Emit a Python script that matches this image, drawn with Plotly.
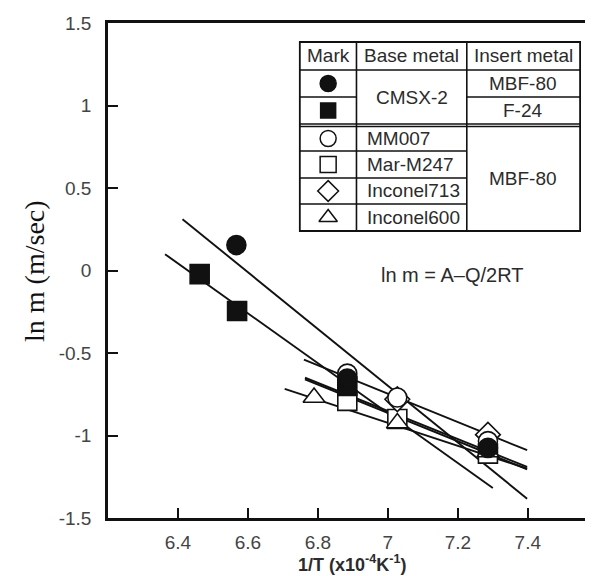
import plotly.graph_objects as go

# ---------------- data ----------------
# CMSX-2 / MBF-80  (filled circle)
cmsx_mbf_x = [6.567, 6.884, 7.286]
cmsx_mbf_y = [0.154, -0.655, -1.075]
# CMSX-2 / F-24  (filled square)
cmsx_f24_x = [6.462, 6.569, 6.884]
cmsx_f24_y = [-0.022, -0.245, -0.700]
# MM007 / MBF-80 (open circle)
mm007_x = [6.884, 7.027, 7.286]
mm007_y = [-0.625, -0.770, -1.034]
# Mar-M247 / MBF-80 (open square)
marm_x = [6.884, 7.027, 7.286]
marm_y = [-0.790, -0.900, -1.110]
# Inconel713 / MBF-80 (diamond)
in713_x = [7.027, 7.286]
in713_y = [-0.780, -0.995]
# Inconel600 / MBF-80 (triangle)
in600_x = [6.789, 7.027, 7.286]
in600_y = [-0.770, -0.925, -1.100]

# fitted lines (start / end points)
fit_x0 = [6.413, 6.363, 6.760, 6.763, 6.763, 6.705]
fit_y0 = [0.311, 0.099, -0.540, -0.650, -0.660, -0.718]
fit_x1 = [7.398, 7.300, 7.398, 7.398, 7.398, 7.398]
fit_y1 = [-1.383, -1.318, -1.089, -1.190, -1.205, -1.200]

x_ticks = [6.4, 6.6, 6.8, 7.0, 7.2, 7.4]
x_tick_text = ["6.4", "6.6", "6.8", "7", "7.2", "7.4"]
y_ticks = [-1.5, -1, -0.5, 0, 0.5, 1, 1.5]
y_tick_text = ["-1.5", "-1", "-0.5", "0", "0.5", "1", "1.5"]

table_header = ["Mark", "Base metal", "Insert metal"]
table_base = ["CMSX-2", "MM007", "Mar-M247", "Inconel713", "Inconel600"]
table_insert = ["MBF-80", "F-24", "MBF-80"]
equation = "ln m = A\u2013Q/2RT"

# ---------------- layout constants ----------------
W, H = 593, 576
ML, MR, MT, MB = 100, 2, 15, 66
PW, PH = W - ML - MR, H - MT - MB
FONT = "Liberation Sans, Arial, Helvetica, sans-serif"
TXT = "#2b2b2b"
INK = "#111111"


def px(x):
    return (x - ML) / PW


def py(y):
    return (MT + PH - y) / PH


fig = go.Figure()

# fitted lines
for i in range(len(fit_x0)):
    fig.add_trace(go.Scatter(x=[fit_x0[i], fit_x1[i]], y=[fit_y0[i], fit_y1[i]],
                             mode="lines", line=dict(color=INK, width=1.9),
                             showlegend=False, hoverinfo="skip"))

MS = 19
LW = 1.6
series = [
    (marm_x, marm_y, "square", "white"),
    (in600_x, in600_y, "triangle-up", "white"),
    (in713_x, in713_y, "diamond", "white"),
    (mm007_x, mm007_y, "circle", "white"),
    (cmsx_f24_x, cmsx_f24_y, "square", INK),
    (cmsx_mbf_x, cmsx_mbf_y, "circle", INK),
]
for xs, ys, sym, fill in series:
    fig.add_trace(go.Scatter(x=xs, y=ys, mode="markers",
                             marker=dict(symbol=sym, size=MS, color=fill,
                                         line=dict(color=INK, width=LW)),
                             showlegend=False, cliponaxis=False))

# ---------------- table (legend) ----------------
TX0, TX1, TX2, TX3 = 293, 350, 461, 575
shapes = []


def hline(x0, x1, y, w=1.6):
    shapes.append(dict(type="line", xref="paper", yref="paper",
                       x0=px(x0), x1=px(x1), y0=py(y), y1=py(y),
                       line=dict(color=INK, width=w), layer="above"))


def vline(x, y0, y1, w=1.6):
    shapes.append(dict(type="line", xref="paper", yref="paper",
                       x0=px(x), x1=px(x), y0=py(y0), y1=py(y1),
                       line=dict(color=INK, width=w), layer="above"))


shapes.append(dict(type="rect", xref="paper", yref="paper",
                   x0=px(TX0), x1=px(TX3), y0=py(34), y1=py(223),
                   fillcolor="white", line=dict(color=INK, width=1.8), layer="below"))
vline(TX1, 34, 223)
vline(TX2, 34, 223)
hline(TX0, TX3, 62)
hline(TX0, TX1, 89)
hline(TX2, TX3, 89)
hline(TX0, TX3, 116, 1.4)
hline(TX0, TX3, 118.5, 1.4)
hline(TX0, TX2, 143)
hline(TX0, TX2, 170)
hline(TX0, TX2, 196)

annotations = []


def text(x, y, t, size=19, xanchor="center", color=TXT, family=FONT, **kw):
    annotations.append(dict(x=px(x), y=py(y), xref="paper", yref="paper", text=t,
                            showarrow=False, xanchor=xanchor, yanchor="middle",
                            font=dict(family=family, size=size, color=color), **kw))


text((TX0 + TX1) / 2, 48, table_header[0])
text((TX1 + TX2) / 2, 48, table_header[1])
text((TX2 + TX3) / 2, 48, table_header[2])
text((TX1 + TX2) / 2, 89.5, table_base[0])
row_c = [130.5, 156.5, 183, 209.5]
for name, yc in zip(table_base[1:], row_c):
    text(359, yc, name, xanchor="left")
text((TX2 + TX3) / 2, 75.5, table_insert[0])
text((TX2 + TX3) / 2, 102.5, table_insert[1])
text((TX2 + TX3) / 2, 170, table_insert[2])

# table marker symbols (placed in data coords derived from pixels)
XR = [6.2, 6.2 + PW / 352.0]
YR = [-1.5, 1.5]


def dx(p):
    return XR[0] + (p - ML) / PW * (XR[1] - XR[0])


def dy(p):
    return YR[1] - (p - MT) / PH * (YR[1] - YR[0])


mark_cx = (TX0 + TX1) / 2
mark_rows = [75.5, 102.5, 130.5, 156.5, 183, 209.5]
mark_syms = ["circle", "square", "circle", "square", "diamond", "triangle-up"]
mark_fill = [INK, INK, "white", "white", "white", "white"]
mark_size = [16, 15, 16, 16, 16, 16]
fig.add_trace(go.Scatter(x=[dx(mark_cx)] * 6, y=[dy(v) for v in mark_rows],
                         mode="markers",
                         marker=dict(symbol=mark_syms, size=mark_size, color=mark_fill,
                                     opacity=1,
                                     line=dict(color=INK, width=1.5)),
                         showlegend=False, cliponaxis=False, hoverinfo="skip"))

# equation
text(446, 267, equation, size=20)

# axis titles
text(345, 555, "<b>1/T (x10<sup>-4</sup>K<sup>-1</sup>)</b>", size=18, color=TXT)
text(26, MT + PH / 2, "ln m (m/sec)", size=28, color="#111",
     family="Liberation Serif, Times New Roman, serif", textangle=-90)

fig.update_layout(
    width=W, height=H,
    margin=dict(l=ML, r=MR, t=MT, b=MB, pad=0),
    plot_bgcolor="white", paper_bgcolor="white",
    shapes=shapes, annotations=annotations, showlegend=False,
    xaxis=dict(range=XR, tickvals=x_ticks, ticktext=x_tick_text,
               ticks="inside", ticklen=10, tickwidth=2, tickcolor=INK,
               showline=True, linewidth=2.5, linecolor=INK, mirror=True,
               showgrid=False, zeroline=False, ticklabelstandoff=5,
               tickfont=dict(family=FONT, size=19, color="#444")),
    yaxis=dict(range=YR, tickvals=y_ticks, ticktext=y_tick_text,
               ticks="inside", ticklen=10, tickwidth=2, tickcolor=INK,
               showline=True, linewidth=2.5, linecolor=INK, mirror="ticks",
               showgrid=False, zeroline=False, ticklabelstandoff=10,
               tickfont=dict(family=FONT, size=19, color="#444")),
)

fig.write_html("out.html")
